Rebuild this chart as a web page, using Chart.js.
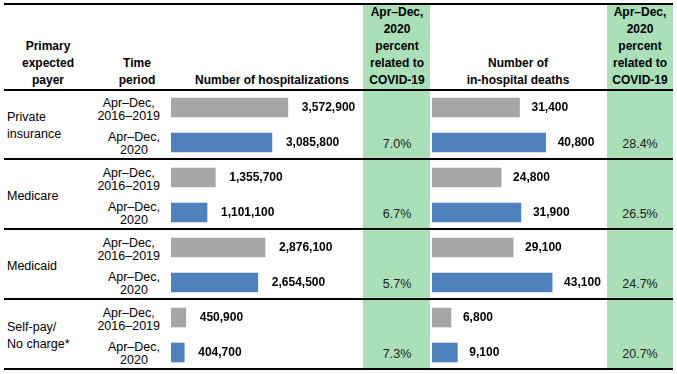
<!DOCTYPE html>
<html>
<head>
<meta charset="utf-8">
<script src="https://cdn.jsdelivr.net/npm/chart.js@4"></script>
<style>
  body { margin: 0; background: #fff; }
  #wrap { position: relative; width: 677px; height: 374px; font-family: Arial, "Liberation Sans", sans-serif; color: #000; overflow: hidden; }
  .green { position: absolute; top: 4px; height: 366px; background: #aadfb8; }
  .hline { position: absolute; left: 4px; width: 669px; height: 2px; background: #000; }
  .head { position: absolute; font-weight: bold; font-size: 12px; line-height: 17px; text-align: center; white-space: nowrap; transform: translateX(-50%); }
  .payer { position: absolute; left: 7px; font-size: 12.5px; line-height: 17px; white-space: nowrap; }
  .period { position: absolute; font-size: 12.5px; line-height: 13px; text-align: center; white-space: nowrap; }
  .pct { position: absolute; font-size: 12.5px; line-height: 14px; color: #222; transform: translateX(-50%); white-space: nowrap; }
  canvas { position: absolute; }
</style>
</head>
<body>
<div id="wrap">
  <div class="green" style="left:363px;width:67px"></div>
  <div class="green" style="left:607px;width:66px"></div>

  <div class="head" style="left:48px;bottom:285px">Primary<br>expected<br>payer</div>
  <div class="head" style="left:137px;bottom:285px">Time<br>period</div>
  <div class="head" style="left:272px;bottom:285px">Number of hospitalizations</div>
  <div class="head" style="left:397px;bottom:285px">Apr–Dec,<br>2020<br>percent<br>related to<br>COVID-19</div>
  <div class="head" style="left:518px;bottom:285px">Number of<br>in-hospital deaths</div>
  <div class="head" style="left:640px;bottom:285px">Apr–Dec,<br>2020<br>percent<br>related to<br>COVID-19</div>

  <canvas id="hospChart" style="left:171px;top:90px" width="190" height="280"></canvas>
  <canvas id="deathChart" style="left:432px;top:90px" width="175" height="280"></canvas>

  <div class="hline" style="top:3px"></div>
  <div class="hline" style="top:89px"></div>
  <div class="hline" style="top:158px"></div>
  <div class="hline" style="top:228px"></div>
  <div class="hline" style="top:298px"></div>
  <div class="hline" style="top:368px"></div>
</div>
<script>
var payers = [['Private', 'insurance'], ['Medicare'], ['Medicaid'], ['Self-pay/', 'No charge*']];
var periods = [['Apr–Dec,', '2016–2019'], ['Apr–Dec,', '2020']];
var hosp2019 = [3572900, 1355700, 2876100, 450900];
var hosp2020 = [3085800, 1101100, 2654500, 404700];
var deaths2019 = [31400, 24800, 29100, 6800];
var deaths2020 = [40800, 31900, 43100, 9100];
var pctHosp = ['7.0%', '6.7%', '5.7%', '7.3%'];
var pctDeaths = ['28.4%', '26.5%', '24.7%', '20.7%'];

var rowLabels = [];
var hospVals = [];
var deathVals = [];
var colors = [];
for (var i = 0; i < payers.length; i++) {
  rowLabels.push(payers[i].join(' ') + ' ' + periods[0].join(' '));
  rowLabels.push(payers[i].join(' ') + ' ' + periods[1].join(' '));
  hospVals.push(hosp2019[i], hosp2020[i]);
  deathVals.push(deaths2019[i], deaths2020[i]);
  colors.push('#a6a6a6', '#4f81bd');
}

var valueLabels = {
  id: 'valueLabels',
  afterDatasetsDraw: function(chart) {
    var ctx = chart.ctx;
    var gap = chart.options.plugins.valueLabels.gap;
    ctx.save();
    ctx.font = 'bold 12px Arial, "Liberation Sans", sans-serif';
    ctx.fillStyle = '#000';
    ctx.textBaseline = 'middle';
    chart.getDatasetMeta(0).data.forEach(function(bar, idx) {
      var v = chart.data.datasets[0].data[idx];
      ctx.fillText(v.toLocaleString('en-US'), bar.x + gap, bar.y + 0.5);
    });
    ctx.restore();
  }
};

function makeChart(id, values, max, gap) {
  return new Chart(document.getElementById(id).getContext('2d'), {
    type: 'bar',
    data: {
      labels: rowLabels,
      datasets: [{
        data: values,
        backgroundColor: colors,
        borderWidth: 0,
        barThickness: 19
      }]
    },
    options: {
      indexAxis: 'y',
      responsive: false,
      animation: false,
      layout: { padding: 0 },
      scales: {
        x: { display: false, min: 0, max: max },
        y: { display: false }
      },
      plugins: {
        legend: { display: false },
        tooltip: { enabled: false },
        valueLabels: { gap: gap }
      }
    },
    plugins: [valueLabels]
  });
}

var hospChart = makeChart('hospChart', hospVals, 5810000, 14);
var deathChart = makeChart('deathChart', deathVals, 62800, 12);

// table text placed on the rows of the bar chart's category scale
var wrap = document.getElementById('wrap');
var yScale = hospChart.scales.y;
var top0 = 90;
function addDiv(cls, html, style) {
  var d = document.createElement('div');
  d.className = cls;
  d.innerHTML = html;
  d.setAttribute('style', style);
  wrap.appendChild(d);
  return d;
}
for (var i = 0; i < payers.length; i++) {
  var y0 = top0 + yScale.getPixelForValue(2 * i);
  var y1 = top0 + yScale.getPixelForValue(2 * i + 1);
  var mid = (y0 + y1) / 2;
  addDiv('payer', payers[i].join('<br>'), 'top:' + (mid + 1 - payers[i].length * 8.5) + 'px');
  addDiv('period', periods[0].join('<br>'), 'right:517px;top:' + (y0 + 2 - 13) + 'px');
  addDiv('period', periods[1].join('<br>'), 'right:517px;top:' + (y1 + 1 - 13) + 'px');
  addDiv('pct', pctHosp[i], 'left:397px;top:' + (y1 + 1 - 7) + 'px');
  addDiv('pct', pctDeaths[i], 'left:640px;top:' + (y1 + 1 - 7) + 'px');
}
</script>
</body>
</html>
